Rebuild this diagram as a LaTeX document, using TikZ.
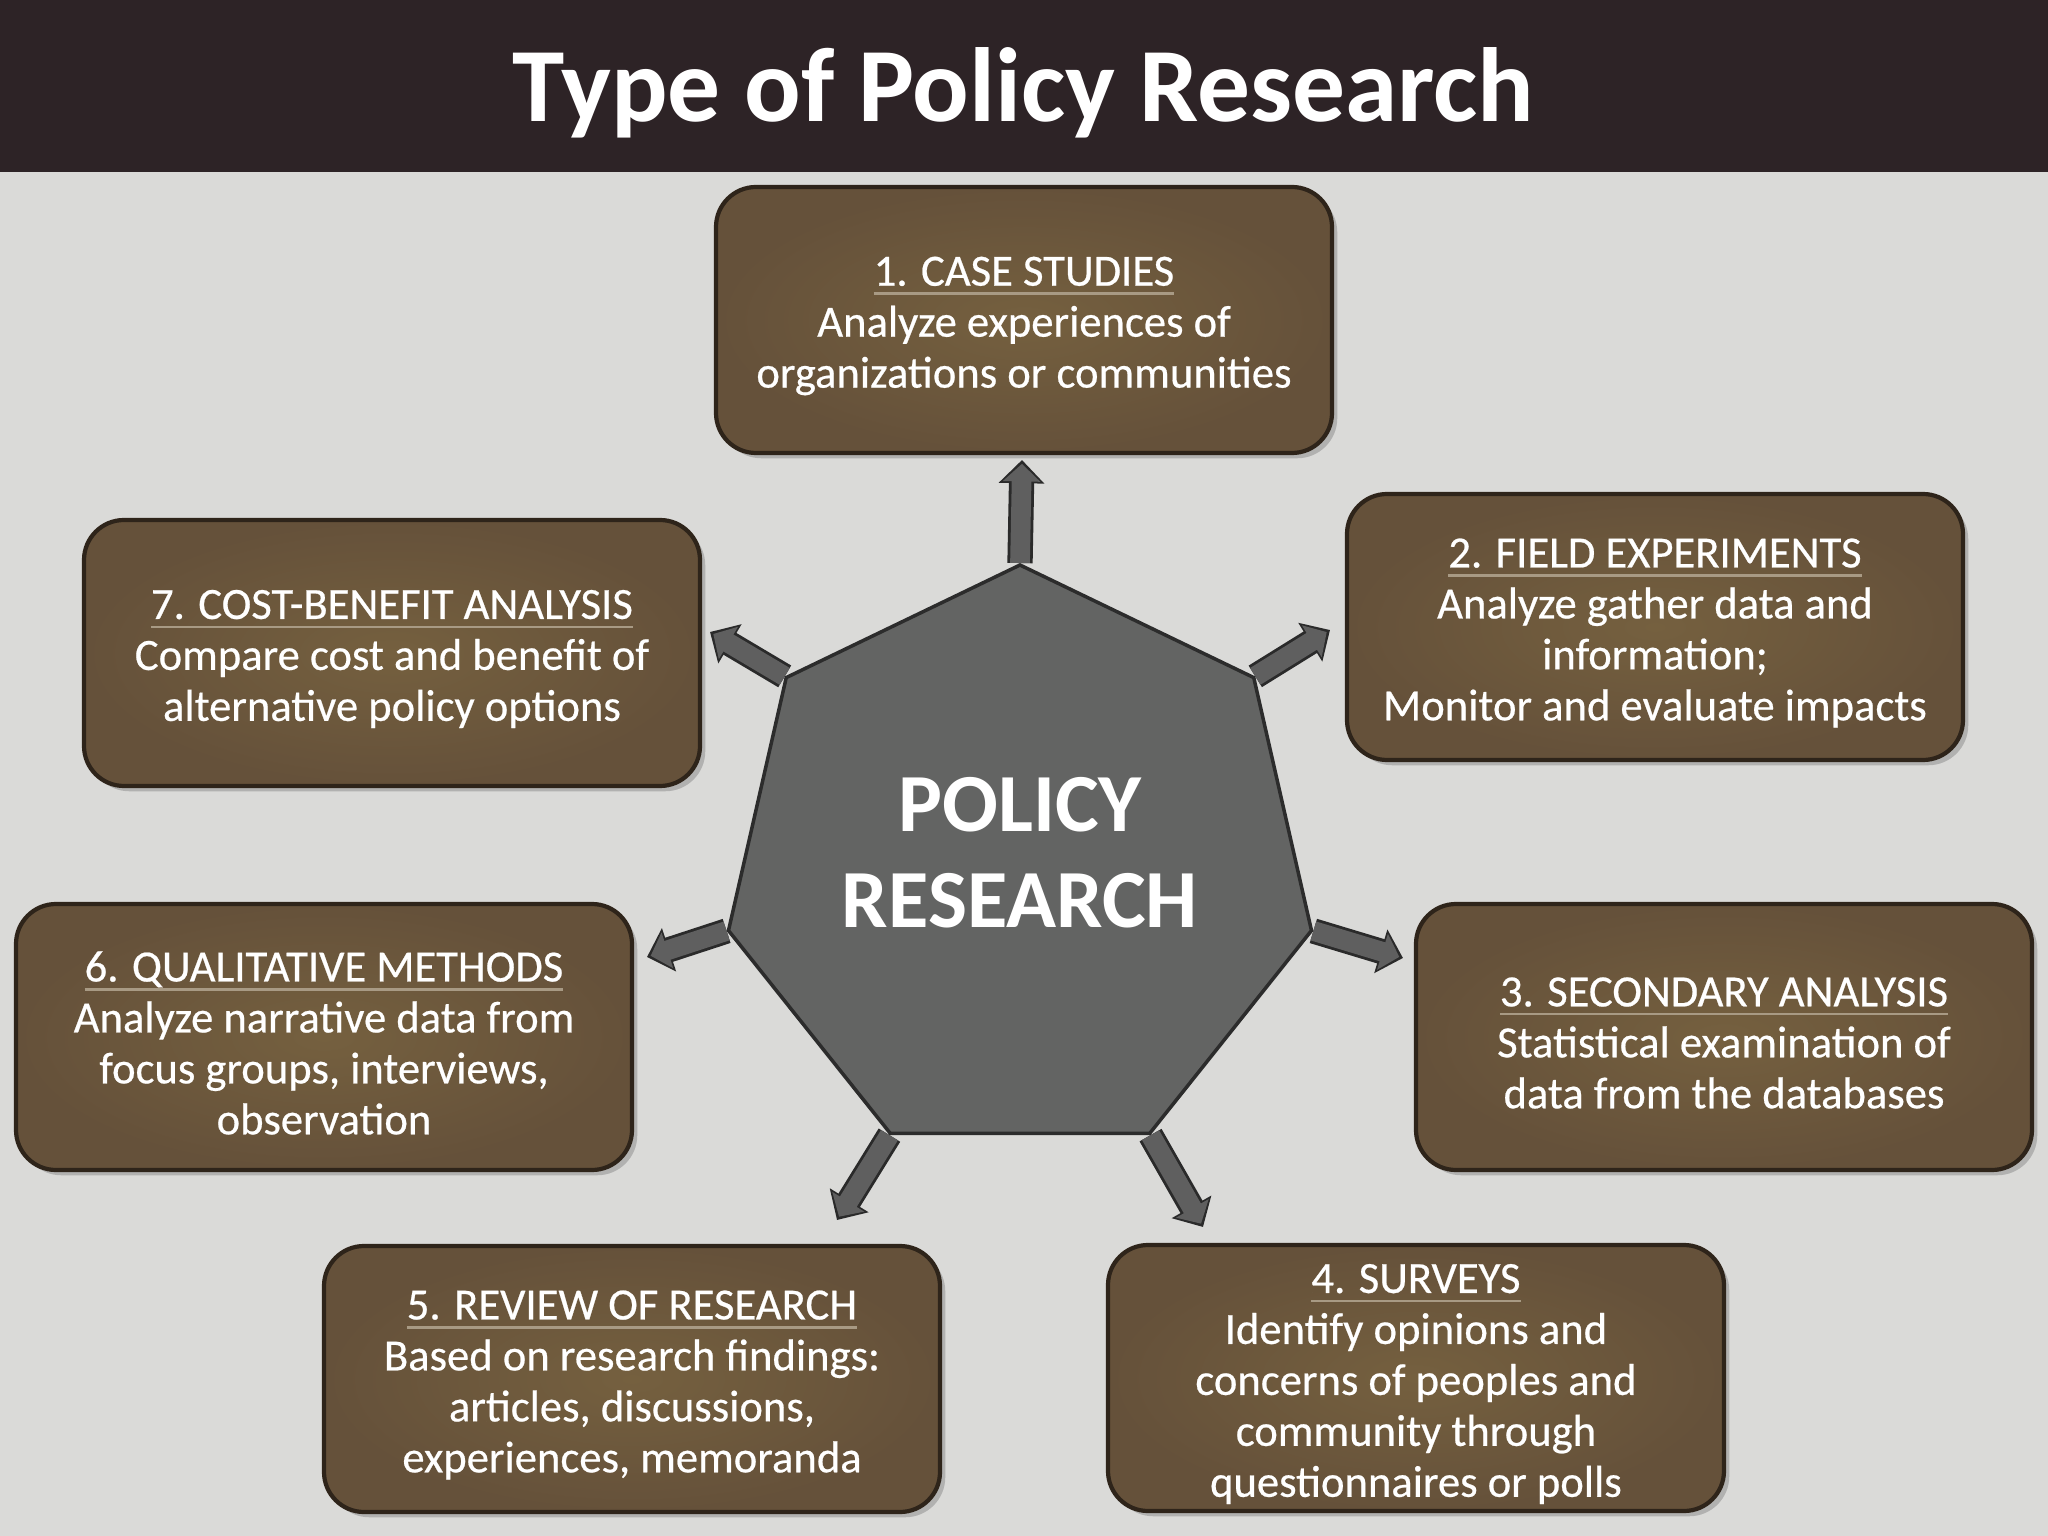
\documentclass[tikz,border=0pt]{standalone}
\usepackage{fontspec}
\setmainfont{Carlito}
\newfontfamily\boxfont{Carlito}[FakeBold=0.5]
\usetikzlibrary{calc,shapes.geometric,arrows.meta,shadows}
\definecolor{barbrown}{HTML}{2D2326}
\definecolor{canvas}{HTML}{DADAD8}
\definecolor{boxlight}{HTML}{75603F}
\definecolor{boxdark}{HTML}{65513A}
\definecolor{boxline}{HTML}{2E241A}
\definecolor{ruleline}{HTML}{A89A84}
\definecolor{hubfill}{HTML}{636463}
\definecolor{hubline}{HTML}{2C2C2C}
\definecolor{spokefill}{HTML}{5F5F5F}
\definecolor{spokeline}{HTML}{2A2A2A}
\pgfdeclarelayer{backdrop}
\pgfdeclarelayer{spokes}
\pgfsetlayers{backdrop,spokes,main}
\tikzset{
	typebox/.style={draw=boxline, line width=1.2pt, rounded corners=0.4cm,
		inner color=boxlight, outer color=boxdark,
		minimum width=6.16cm, minimum height=2.66cm,
		drop shadow={shadow xshift=1.5pt, shadow yshift=-1.5pt, opacity=0.45}},
	typetext/.style={align=center, text=white, inner sep=0pt,
		font=\boxfont\fontsize{12.7}{14.5}\selectfont},
	hub/.style={regular polygon, regular polygon sides=7, minimum size=5.98cm,
		inner sep=0pt, fill=hubfill, draw=hubline, line width=1pt},
	hubtext/.style={text=white, align=center, font=\bfseries\fontsize{23.5}{27.3}\selectfont},
	spoke/.style={draw=spokefill, line width=5.6pt, -{Triangle[length=5pt,width=10.4pt]},
		shorten >=1.1pt,
		preaction={draw=spokeline, line width=7.2pt, -{Triangle[length=6.6pt,width=12.6pt]}, shorten >=0pt}}
}
\newcommand{\headline}[1]{\setbox0\hbox{#1}\rlap{\color{ruleline}\rule[-2.6pt]{\wd0}{0.7pt}}\box0}
\newcommand{\typenode}[4]{
	\node[typebox] (#1) at (#2) {};
	\node[typetext] (#1-text) at ($(#1) + (0,0.06)$) {\headline{#3}\\#4};
}

\begin{document}
\begin{tikzpicture}[x=1cm,y=-1cm]
	\useasboundingbox (0,0) rectangle (20.48,15.36);
	\begin{pgfonlayer}{backdrop}
		\fill[canvas] (0,0) rectangle (20.48,15.36);
		\fill[barbrown] (0,0) rectangle (20.48,1.72);
	\end{pgfonlayer}
	\node[text=white, anchor=base, font=\bfseries\fontsize{30}{36}\selectfont] (title) at (10.23,1.22) {Type of Policy Research};

	\node[hub] (hub) at (10.20,8.64) {};
	\node[hubtext] (hubtitle) at ($(hub.center) + (0,-0.11)$) {POLICY\\RESEARCH};

	\typenode{case}{10.24,3.20}{1. CASE STUDIES}{Analyze experiences of\\organizations or communities}
	\typenode{field}{16.55,6.27}{2. FIELD EXPERIMENTS}{Analyze gather data and\\information;\\Monitor and evaluate impacts}
	\typenode{secondary}{17.24,10.37}{3. SECONDARY ANALYSIS}{Statistical examination of\\data from the databases}
	\typenode{surveys}{14.16,13.78}{4. SURVEYS}{Identify opinions and\\concerns of peoples and\\community through\\questionnaires or polls}
	\typenode{review}{6.32,13.79}{5. REVIEW OF RESEARCH}{Based on research findings:\\articles, discussions,\\experiences, memoranda}
	\typenode{qualitative}{3.24,10.37}{6. QUALITATIVE METHODS}{Analyze narrative data from\\focus groups, interviews,\\observation}
	\typenode{cost}{3.92,6.53}{7. COST-BENEFIT ANALYSIS}{Compare cost and benefit of\\alternative policy options}

	\coordinate (t1) at (10.22,4.60);
	\coordinate (t2) at (13.30,6.30);
	\coordinate (t3) at (14.03,9.58);
	\coordinate (t4) at (12.03,12.27);
	\coordinate (t5) at (8.37,12.20);
	\coordinate (t6) at (6.47,9.57);
	\coordinate (t7) at (7.10,6.32);
	\begin{pgfonlayer}{spokes}
		\foreach \c/\t in {1/t1,7/t2,6/t3,5/t4,4/t5,3/t6,2/t7}
			\draw[spoke] (hub.corner \c) -- (\t);
	\end{pgfonlayer}
\end{tikzpicture}
\end{document}
